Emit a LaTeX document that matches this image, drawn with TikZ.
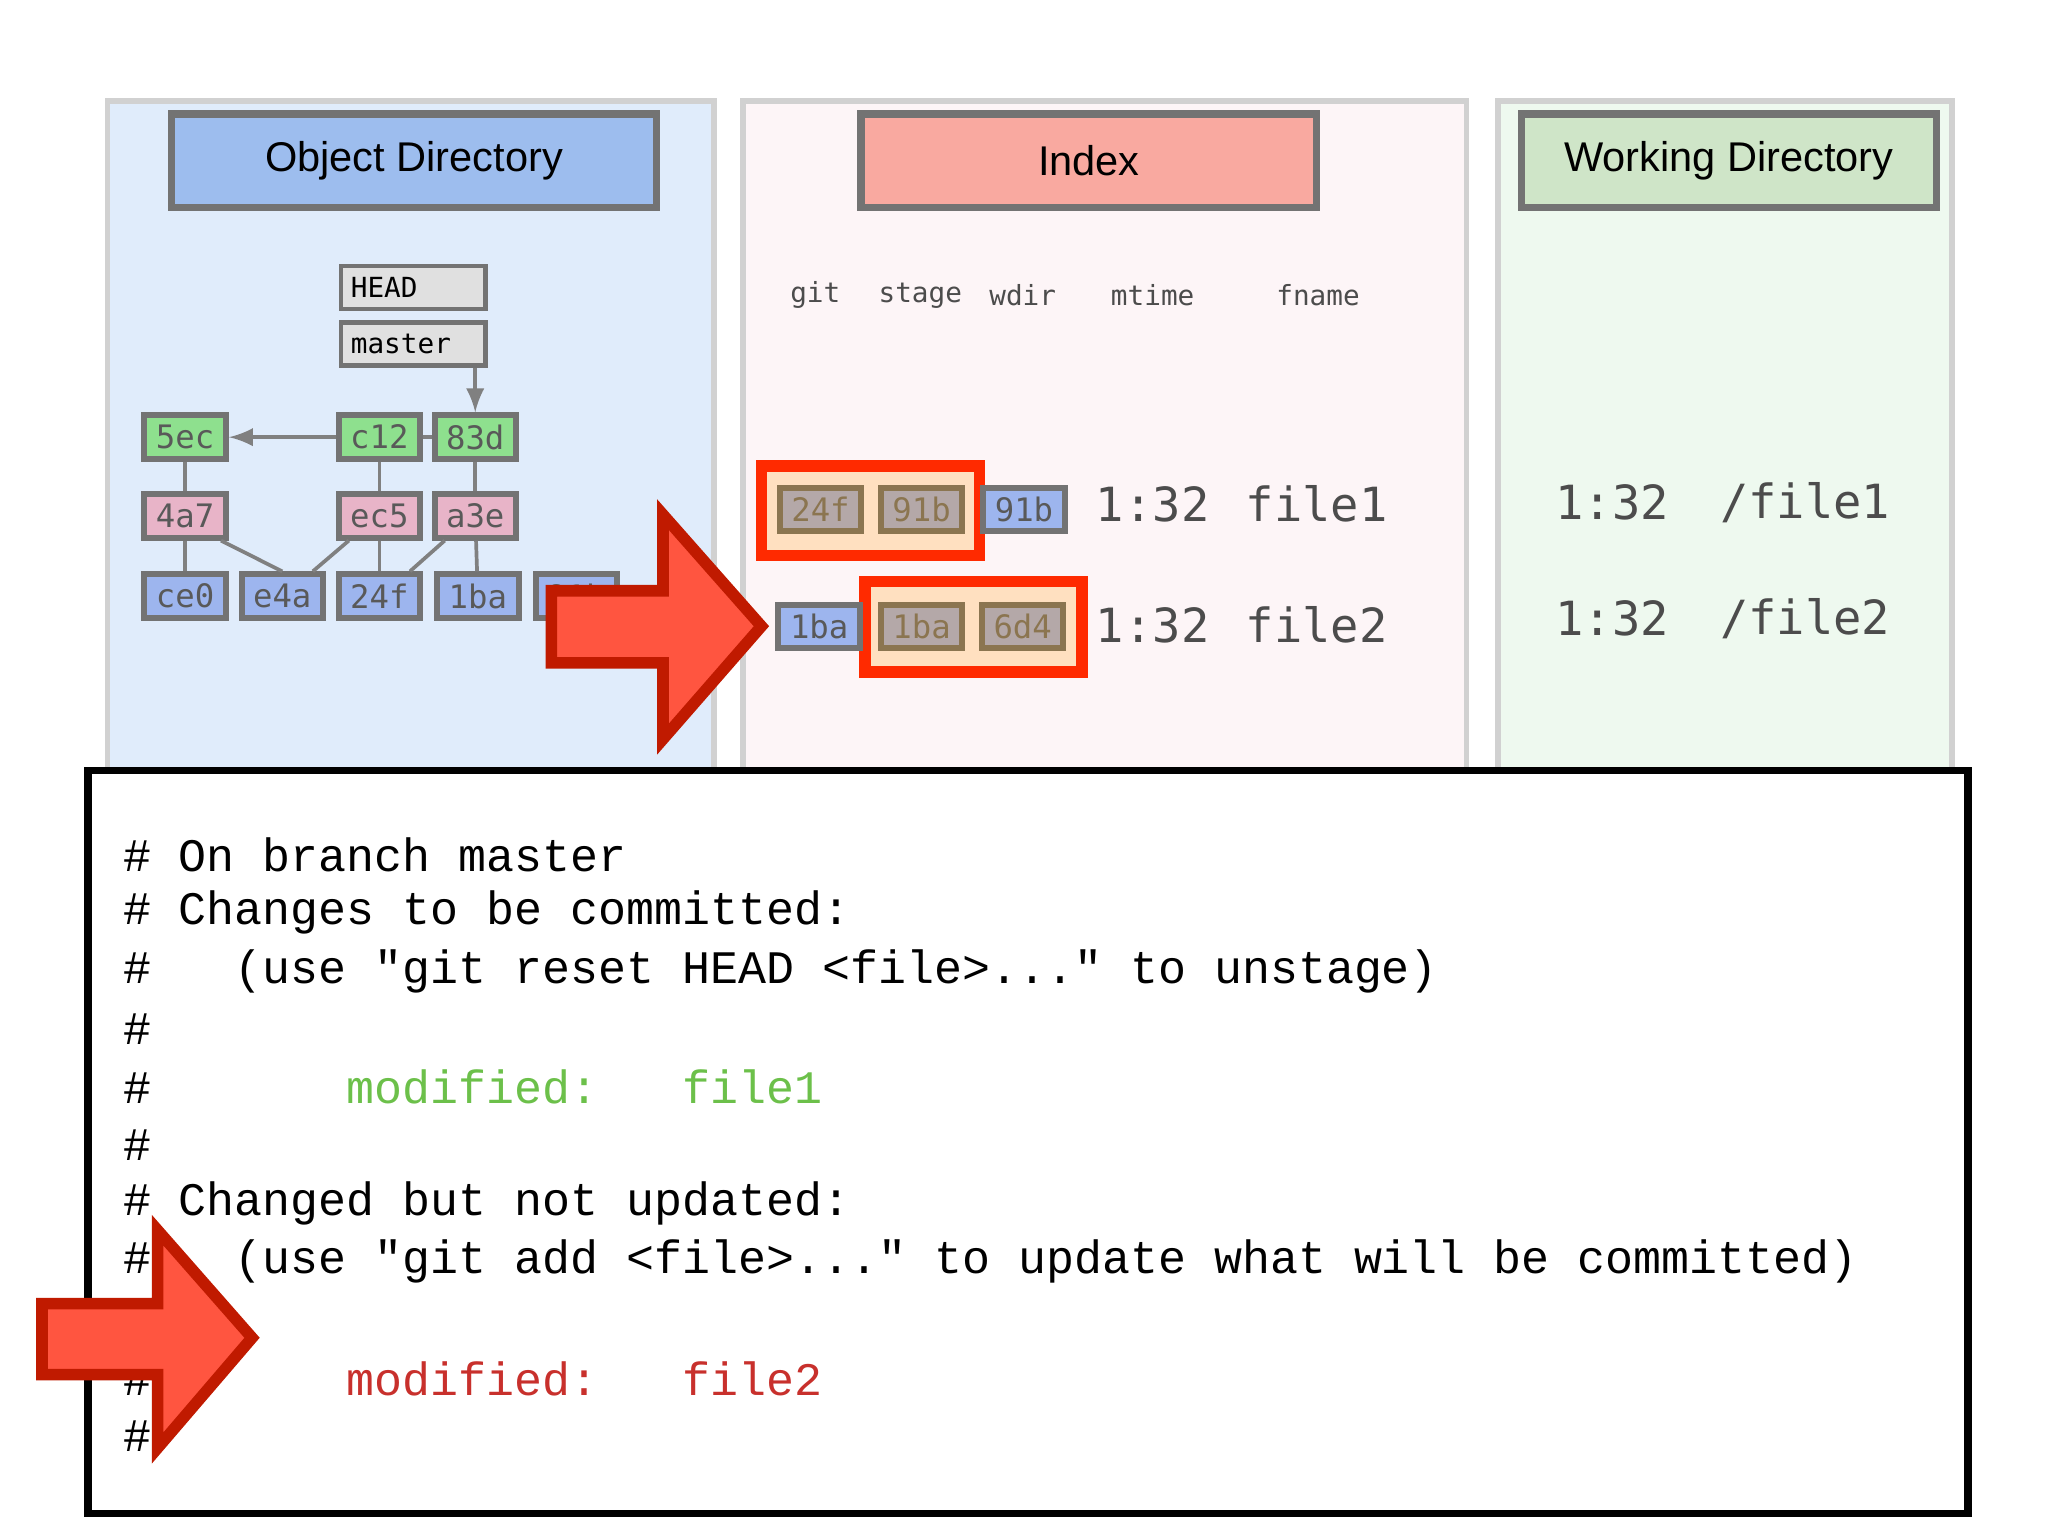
\documentclass[tikz,border=0pt]{standalone}
\usepackage{fontspec}
\setmainfont{Liberation Sans}
\newfontfamily\hashfont{DejaVu Sans Mono}
\newfontfamily\codefont{Liberation Mono}
\definecolor{pblue}{HTML}{E0ECFB}
\definecolor{pred}{HTML}{FDF5F7}
\definecolor{pgreen}{HTML}{EEF9EF}
\definecolor{tblue}{HTML}{9DBDEE}
\definecolor{tred}{HTML}{F9A9A0}
\definecolor{tgreen}{HTML}{CFE5C8}
\definecolor{hgreen}{HTML}{8EE08E}
\definecolor{hpink}{HTML}{E8B4C8}
\definecolor{hblue}{HTML}{9DB5EE}
\definecolor{sfill}{HTML}{B4A8A8}
\definecolor{sdraw}{HTML}{8B7550}
\definecolor{arfill}{HTML}{FF5540}
\definecolor{ardraw}{HTML}{C01A00}
\definecolor{hlfill}{HTML}{FFE0C0}
\definecolor{hldraw}{HTML}{FF2A00}
\definecolor{cgreen}{HTML}{6CC04A}
\definecolor{cred}{HTML}{C8302C}
\begin{document}
\begin{tikzpicture}[x=0.01cm,y=-0.01cm,
  panel/.style={draw=black!18,line width=1.2pt},
  title/.style={draw=black!55,line width=1.6pt,anchor=north west,font=\fontsize{9}{10}\selectfont},
  hb/.style={draw=black!55,line width=1.3pt,minimum width=0.62cm,minimum height=0.33cm,inner sep=0pt,font=\hashfont\fontsize{7}{8}\selectfont,text=black!65},
  cmt/.style={hb,fill=hgreen},
  tr/.style={hb,fill=hpink},
  bl/.style={hb,fill=hblue},
  st/.style={hb,fill=sfill,draw=sdraw,text=sdraw},
  ref/.style={draw=black!55,line width=1pt,fill=black!12,minimum width=1.1cm,minimum height=0.33cm,inner sep=2pt,anchor=west,font=\hashfont\fontsize{6}{7}\selectfont,text width=0.95cm},
  ed/.style={draw=black!50,line width=0.8pt},
  hl/.style={draw=hldraw,line width=2.5pt,fill=hlfill},
  big/.style={font=\hashfont\fontsize{10.2}{12}\selectfont,text=black!70},
  hdr/.style={font=\hashfont\fontsize{6}{7}\selectfont,text=black!70},
  code/.style={anchor=west,inner sep=0pt,font=\codefont\fontsize{10.1}{12}\selectfont},
  redarrow/.style={fill=arfill,draw=ardraw,line width=2.5pt,line join=miter}]
\useasboundingbox (0,0) rectangle (1560,1170);
\fill[white] (0,0) rectangle (1560,1170);
% panels
\path[panel,fill=pblue] (82,77) rectangle (544,600);
\path[panel,fill=pred] (566,77) rectangle (1117,600);
\path[panel,fill=pgreen] (1141,77) rectangle (1487,600);
\node[title,fill=tblue,minimum width=3.69cm,minimum height=0.71cm] (t1) at (128,84) {Object Directory};
\node[title,fill=tred,minimum width=3.47cm,minimum height=0.71cm] (t2) at (653,84) {Index};
\node[title,fill=tgreen,minimum width=3.16cm,minimum height=0.71cm] (t3) at (1156,84) {Working Directory};
% refs
\node[ref] (head) at (258,219) {HEAD};
\node[ref] (master) at (258,262) {master};
% commits
\node[cmt] (c5ec) at (141,333) {5ec};
\node[cmt] (c12) at (289,333) {c12};
\node[cmt] (c83d) at (362,333) {83d};
\node[tr] (t4a7) at (141,393) {4a7};
\node[tr] (tec5) at (289,393) {ec5};
\node[tr] (ta3e) at (362,393) {a3e};
\node[bl] (bce0) at (141,454) {ce0};
\node[bl] (be4a) at (215,454) {e4a};
\node[bl] (b24f) at (289,454) {24f};
\node[bl] (b1ba) at (364,454) {1ba};
\node[bl] (b91b) at (439,454) {91b};
\draw[ed,-latex] (master.south -| c83d) -- (c83d);
\draw[ed,-latex] (c12) -- (c5ec);
\draw[ed] (c12) -- (c83d);
\draw[ed] (c5ec) -- (t4a7); \draw[ed] (t4a7) -- (bce0); \draw[ed] ([xshift=-0.06cm]t4a7.south east) -- (be4a.north);
\draw[ed] (c12) -- (tec5); \draw[ed] ([xshift=0.1cm]tec5.south west) -- ([xshift=-0.1cm]be4a.north east); \draw[ed] (tec5) -- (b24f);
\draw[ed] (c83d) -- (ta3e); \draw[ed] ([xshift=0.1cm]ta3e.south west) -- ([xshift=-0.1cm]b24f.north east); \draw[ed] (ta3e) -- (b1ba);
% arrow 1
\path[redarrow] (420,450) -- (505,450) -- (505,392) -- (580,477) -- (505,563) -- (505,505) -- (420,505) -- cycle;
% index
\node[hdr] (hg) at (621,225) {git};
\node[hdr] (hs) at (701,225) {stage};
\node[hdr] (hw) at (779,225) {wdir};
\node[hdr] (hm) at (878,225) {mtime};
\node[hdr] (hf) at (1004,225) {fname};
\path[hl] (580,355) rectangle (746,423);
\node[st] (i24f) at (625,388) {24f};
\node[st] (i91b) at (702,388) {91b};
\node[bl] (w91b) at (780,388) {91b};
\node[big] (m1) at (878,384) {1:32};
\node[big] (f1) at (1003,384) {file1};
\path[hl] (659,443) rectangle (824,512);
\node[bl] (g1ba) at (624,477) {1ba};
\node[st] (s1ba) at (702,477) {1ba};
\node[st] (s6d4) at (779,477) {6d4};
\node[big] (m2) at (878,476) {1:32};
\node[big] (f2) at (1003,476) {file2};
% working
\node[big] (wm1) at (1228,383) {1:32};
\node[big] (wf1) at (1375,383) {/file1};
\node[big] (wm2) at (1228,471) {1:32};
\node[big] (wf2) at (1375,471) {/file2};
% bottom box
\draw[line width=1.6pt,fill=white] (67,587) rectangle (1499,1153);
\node[code] (l1) at (93,651) {\# On branch master};
\node[code] (l2) at (93,695) {\# Changes to be committed:};
\node[code] (l3) at (93,740) {\#~~~(use "git reset HEAD <file>..." to unstage)};
\node[code] (l4) at (93,784) {\#};
\node[code] (l5) at (93,828) {\#~~~~~~~\textcolor{cgreen}{modified:~~~file1}};
\node[code] (l6) at (93,872) {\#};
\node[code] (l7) at (93,917) {\# Changed but not updated:};
\node[code] (l8) at (93,961) {\#~~~(use "git add <file>..." to update what will be committed)};
\node[code] (l9) at (93,1005) {\#};
\node[code] (l10) at (93,1050) {\#~~~~~~~\textcolor{cred}{modified:~~~file2}};
\node[code] (l11) at (93,1094) {\#};
% arrow 2
\path[redarrow] (32,993) -- (120,993) -- (120,937) -- (192,1019) -- (120,1103) -- (120,1047) -- (32,1047) -- cycle;
\end{tikzpicture}
\end{document}
